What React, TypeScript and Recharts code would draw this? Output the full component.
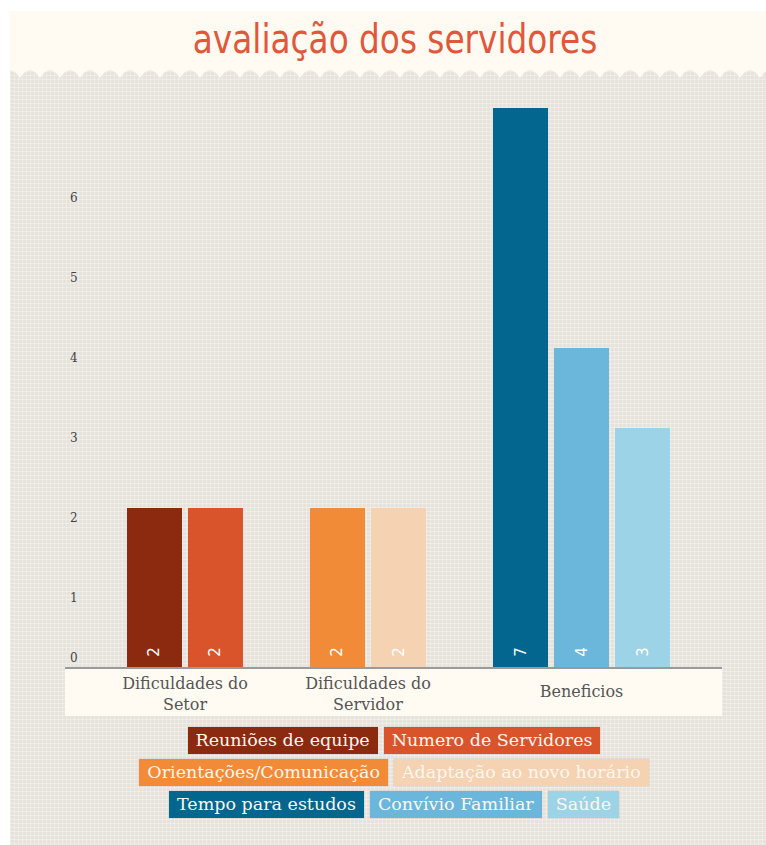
import React from 'react';
import { BarChart, Bar, XAxis, YAxis, Cell, LabelList } from 'recharts';

const categories = ['Dificuldades do Setor', 'Dificuldades do Servidor', 'Beneficios'];
const categoryLines = [['Dificuldades do', 'Setor'], ['Dificuldades do', 'Servidor'], ['Beneficios']];
const seriesNames = [
  'Reuniões de equipe',
  'Numero de Servidores',
  'Orientações/Comunicação',
  'Adaptação ao novo horário',
  'Tempo para estudos',
  'Convívio Familiar',
  'Saúde',
];
const seriesValues = [2, 2, 2, 2, 7, 4, 3];
const seriesCategory = [0, 0, 1, 1, 2, 2, 2];
const seriesColors = ['#8b2a0f', '#d9532b', '#f28b38', '#f4d2b2', '#02668f', '#6bb6db', '#9dd3e7'];
const yTicks = [0, 1, 2, 3, 4, 5, 6];
const title = 'avaliação dos servidores';

// one slot per bar, with an empty slot between categories
const rows = seriesNames.map((name, i) => ({
  name,
  value: seriesValues[i],
  pos: i + seriesCategory[i],
  color: seriesColors[i],
}));
const categoryPositions = categories.map((_, c) => {
  const ps = rows.filter((_r, i) => seriesCategory[i] === c).map((r) => r.pos);
  return (Math.min(...ps) + Math.max(...ps)) / 2;
});

const SERIF = "'DejaVu Serif', Georgia, serif";
const CREAM = '#fffbf2';

const XTick = (props: any) => {
  const { x, y, payload } = props;
  const idx = categoryPositions.indexOf(payload.value);
  const lines = categoryLines[idx] || [];
  const startY = lines.length > 1 ? y + 21 : y + 29;
  return (
    <g>
      {lines.map((l, k) => (
        <text
          key={k}
          x={x}
          y={startY + k * 21}
          textAnchor="middle"
          fontFamily={SERIF}
          fontSize={16}
          fill="#555"
        >
          {l}
        </text>
      ))}
    </g>
  );
};

const YTick = (props: any) => {
  const { x, y, payload } = props;
  const dy = payload.value === 0 ? -10 : 10;
  return (
    <text x={x + 5} y={y + dy} dy="0.35em" textAnchor="start" fontFamily={SERIF} fontSize={12} fill="#444">
      {payload.value}
    </text>
  );
};

const ValueLabel = (props: any) => {
  const { x, y, width, height, value } = props;
  const cx = x + width / 2;
  const cy = y + height - 16;
  return (
    <text
      x={cx}
      y={cy}
      transform={`rotate(-90 ${cx} ${cy})`}
      textAnchor="middle"
      dominantBaseline="central"
      fontFamily="'DejaVu Sans', sans-serif"
      fontSize={15}
      fill="#ffffff"
    >
      {value}
    </text>
  );
};

const gridBg: React.CSSProperties = {
  backgroundColor: '#e6e3dd',
  backgroundImage:
    'linear-gradient(rgba(255,255,255,0.3) 1px, transparent 1px), linear-gradient(90deg, rgba(255,255,255,0.3) 1px, transparent 1px)',
  backgroundSize: '4px 4px',
};

export default function App() {
  return (
    <div style={{ position: 'absolute', left: 0, top: 0, width: 766, height: 845, overflow: 'hidden' }}>
      {/* panel background */}
      <div style={{ position: 'absolute', left: 10, top: 11, width: 756, height: 834, ...gridBg }} />
      {/* title band */}
      <div style={{ position: 'absolute', left: 10, top: 11, width: 756, height: 58, background: CREAM }} />
      <svg style={{ position: 'absolute', left: 10, top: 68 }} width={756} height={11}>
        <defs>
          <pattern id="zig" width={20} height={11} patternUnits="userSpaceOnUse">
            <path d="M0 0 H20 V2 Q14 3 10 10 Q6 3 0 2 Z" fill={CREAM} />
          </pattern>
        </defs>
        <rect x={0} y={0} width={756} height={11} fill="url(#zig)" />
      </svg>
      <div
        style={{
          position: 'absolute',
          left: 10,
          top: 11,
          width: 770,
          height: 56,
          lineHeight: '56px',
          textAlign: 'center',
          fontFamily: "'DejaVu Sans Condensed', 'DejaVu Sans', sans-serif",
          fontWeight: 400,
          fontSize: 40,
          color: '#e0583b',
          transform: 'scaleX(0.91)',
          transformOrigin: '385px 28px',
        }}
      >
        {title}
      </div>
      {/* cream band under x axis */}
      <div style={{ position: 'absolute', left: 65, top: 669, width: 657, height: 47, background: CREAM }} />
      <div style={{ position: 'absolute', left: 0, top: 0 }}>
        <BarChart
          width={766}
          height={845}
          data={rows}
          margin={{ top: 108, right: 44, bottom: 127, left: 45 }}
        >
          <XAxis
            type="number"
            dataKey="pos"
            domain={[-1.467, 9.303]}
            ticks={categoryPositions}
            interval={0}
            tick={<XTick />}
            tickLine={false}
            tickSize={0}
            tickMargin={0}
            height={50}
            axisLine={{ stroke: '#9a9a9a', strokeWidth: 2 }}
          />
          <YAxis
            type="number"
            domain={[0, 7]}
            ticks={yTicks}
            interval={0}
            width={20}
            axisLine={false}
            tickLine={false}
            tickSize={0}
            tickMargin={0}
            tick={<YTick />}
          />
          <Bar dataKey="value" barSize={55} isAnimationActive={false}>
            {rows.map((r) => (
              <Cell key={r.name} fill={r.color} />
            ))}
            <LabelList dataKey="value" content={<ValueLabel />} />
          </Bar>
        </BarChart>
      </div>
      {/* legend */}
      <div
        style={{
          position: 'absolute',
          left: 114,
          top: 727,
          width: 560,
          display: 'flex',
          flexWrap: 'wrap',
          justifyContent: 'center',
          columnGap: 6,
          rowGap: 5,
        }}
      >
        {seriesNames.map((n, i) => (
          <div
            key={n}
            style={{
              background: seriesColors[i],
              color: '#fdf6ee',
              fontFamily: SERIF,
              fontSize: 17.5,
              height: 27,
              lineHeight: '27px',
              padding: '0 8px',
              whiteSpace: 'nowrap',
              boxShadow: '0 0 1px rgba(0,0,0,0.25)',
            }}
          >
            {n}
          </div>
        ))}
      </div>
    </div>
  );
}
